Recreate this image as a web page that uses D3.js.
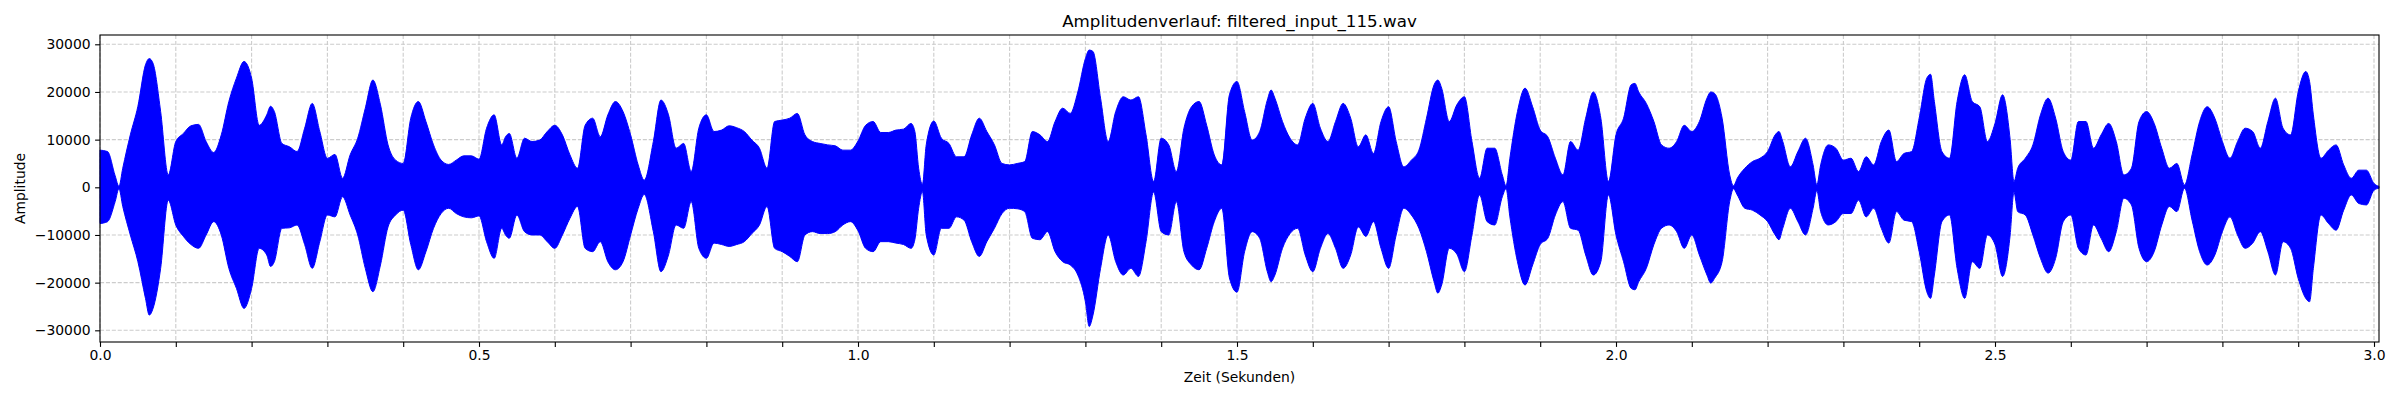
<!DOCTYPE html>
<html>
<head>
<meta charset="utf-8">
<script src="https://cdn.jsdelivr.net/npm/d3@7"></script>
<style>
  body { margin: 0; background: #fff; }
  svg text { font-family: "DejaVu Sans", sans-serif; fill: #000; }
</style>
</head>
<body>
<svg id="chart"></svg>
<script>
// envelope of the wave (seconds, upper peak, lower peak)
var timeSec = [
  0.000, 0.010, 0.020, 0.025, 0.030, 0.040, 0.050, 0.060, 0.065, 0.070, 0.080, 0.090,
  0.100, 0.110, 0.120, 0.130, 0.140, 0.150, 0.160, 0.170, 0.180, 0.190, 0.200, 0.210,
  0.220, 0.225, 0.230, 0.240, 0.250, 0.260, 0.270, 0.280, 0.290, 0.300, 0.310, 0.320,
  0.330, 0.340, 0.350, 0.360, 0.370, 0.380, 0.390, 0.400, 0.410, 0.420, 0.430, 0.440,
  0.450, 0.460, 0.470, 0.480, 0.490, 0.500, 0.510, 0.520, 0.530, 0.535, 0.540, 0.550,
  0.560, 0.570, 0.580, 0.590, 0.600, 0.610, 0.620, 0.630, 0.640, 0.650, 0.660, 0.670,
  0.680, 0.690, 0.700, 0.710, 0.718, 0.730, 0.740, 0.750, 0.760, 0.770, 0.780, 0.790,
  0.800, 0.810, 0.820, 0.830, 0.840, 0.850, 0.860, 0.870, 0.880, 0.890, 0.900, 0.910,
  0.920, 0.930, 0.940, 0.950, 0.960, 0.970, 0.980, 0.990, 1.000, 1.010, 1.020, 1.030,
  1.040, 1.050, 1.060, 1.070, 1.075, 1.080, 1.085, 1.090, 1.100, 1.110, 1.120, 1.130,
  1.140, 1.150, 1.160, 1.170, 1.180, 1.190, 1.200, 1.210, 1.220, 1.230, 1.240, 1.250,
  1.260, 1.270, 1.280, 1.290, 1.300, 1.305, 1.310, 1.320, 1.330, 1.340, 1.350, 1.360,
  1.370, 1.380, 1.390, 1.400, 1.410, 1.420, 1.430, 1.440, 1.450, 1.460, 1.470, 1.480,
  1.490, 1.500, 1.510, 1.520, 1.530, 1.540, 1.545, 1.550, 1.560, 1.570, 1.580, 1.590,
  1.600, 1.610, 1.620, 1.630, 1.640, 1.650, 1.660, 1.670, 1.680, 1.690, 1.700, 1.710,
  1.720, 1.730, 1.740, 1.750, 1.760, 1.765, 1.770, 1.780, 1.790, 1.800, 1.810, 1.820,
  1.830, 1.840, 1.850, 1.855, 1.860, 1.870, 1.880, 1.890, 1.900, 1.910, 1.920, 1.930,
  1.940, 1.950, 1.960, 1.970, 1.980, 1.990, 2.000, 2.010, 2.020, 2.025, 2.030, 2.040,
  2.050, 2.060, 2.070, 2.080, 2.090, 2.100, 2.110, 2.120, 2.125, 2.130, 2.140, 2.150,
  2.155, 2.160, 2.170, 2.180, 2.190, 2.200, 2.210, 2.215, 2.220, 2.230, 2.240, 2.250,
  2.260, 2.265, 2.270, 2.280, 2.290, 2.300, 2.310, 2.320, 2.330, 2.340, 2.350, 2.360,
  2.370, 2.380, 2.390, 2.400, 2.410, 2.415, 2.420, 2.430, 2.440, 2.450, 2.460, 2.470,
  2.480, 2.490, 2.500, 2.510, 2.520, 2.525, 2.530, 2.540, 2.550, 2.560, 2.570, 2.580,
  2.590, 2.600, 2.610, 2.620, 2.630, 2.640, 2.650, 2.660, 2.670, 2.680, 2.690, 2.700,
  2.710, 2.720, 2.730, 2.740, 2.750, 2.760, 2.770, 2.780, 2.790, 2.800, 2.810, 2.820,
  2.830, 2.840, 2.850, 2.860, 2.870, 2.880, 2.890, 2.900, 2.910, 2.915, 2.920, 2.930,
  2.940, 2.950, 2.960, 2.970, 2.980, 2.990, 3.000, 3.0066
]

var upperPeak = [
  7800, 7500, 2400, 200, 4000, 11000, 17000, 25700, 27000, 26000, 15900, 2600,
  9600, 11300, 12900, 13200, 9600, 7300, 11000, 18000, 22900, 26400, 22900, 13000,
  15200, 17000, 15900, 9200, 8500, 7500, 12400, 17600, 11700, 6100, 6900, 1900,
  6800, 10300, 16600, 22500, 17300, 8900, 5700, 5000, 14500, 18000, 13800, 8900,
  5700, 4800, 5700, 6600, 6600, 5900, 12400, 15200, 8900, 10600, 11300, 6100,
  10300, 9600, 9900, 11700, 13000, 11000, 6800, 4000, 13000, 14500, 10600, 15200,
  18000, 15900, 11000, 4700, 1500, 9600, 18300, 15200, 8200, 9200, 3300, 12400,
  15200, 11700, 12000, 12900, 12500, 11700, 9900, 8200, 4000, 13800, 14100, 14500,
  15500, 11000, 9600, 9200, 8900, 8700, 7800, 7800, 9700, 13000, 13800, 11500,
  11500, 12000, 12200, 13400, 11700, 4000, 600, 8900, 13900, 10300, 9200, 6400,
  6400, 11000, 14500, 11700, 8900, 5000, 4700, 5000, 5400, 11700, 11000, 9600,
  13800, 16600, 15500, 20000, 27000, 28800, 28500, 18700, 9600, 15900, 19000, 18300,
  19000, 11000, 1200, 10300, 8900, 3300, 12400, 16900, 18000, 13000, 6800, 4700,
  19400, 22200, 15900, 9900, 11700, 18300, 20400, 18700, 13800, 10300, 8900, 14500,
  17600, 12400, 9600, 13800, 17600, 14500, 8500, 11000, 7100, 13800, 16900, 9600,
  4300, 5700, 7800, 14500, 21500, 22500, 20800, 13800, 17300, 19000, 9600, 1900,
  8200, 8200, 2600, 300, 6100, 15900, 20800, 16900, 12000, 10600, 6100, 2600,
  9600, 7800, 14500, 20000, 14500, 1200, 11000, 14500, 21500, 21800, 20000, 17600,
  13800, 8900, 8200, 9600, 13000, 11700, 13800, 18700, 20000, 19700, 14500, 2600,
  300, 1900, 4000, 5400, 6100, 7500, 11000, 11700, 9600, 4300, 7500, 10300,
  4700, 500, 4700, 8900, 8200, 5700, 6100, 3300, 6400, 4700, 9600, 12000,
  5400, 7100, 7500, 14500, 22900, 23700, 18000, 7500, 6100, 18000, 23600, 18000,
  16900, 9600, 13400, 19400, 10000, 1200, 4000, 6100, 8900, 15200, 18700, 14500,
  7500, 5700, 13800, 13800, 8200, 11000, 13400, 9600, 2600, 4000, 13800, 15900,
  13400, 8200, 4000, 5000, 500, 6800, 13800, 16900, 14500, 9600, 6100, 9600,
  12400, 11700, 8200, 13800, 18700, 12400, 11000, 20000, 24300, 22200, 15200, 6100,
  7800, 8900, 4700, 1900, 3600, 3600, 800, 200
]

var lowerPeak = [
  -7600, -7200, -3000, -300, -4000, -10000, -15600, -23300, -26800, -25400, -17000, -2700,
  -7900, -10300, -12000, -12800, -10000, -7200, -10000, -17000, -21200, -25400, -21200, -12800,
  -14200, -16600, -15600, -8600, -8500, -7900, -12000, -17000, -11400, -5800, -6200, -2000,
  -5800, -10000, -17000, -21900, -16300, -8300, -5800, -4800, -12000, -17300, -13500, -8600,
  -5500, -4400, -5500, -6200, -6400, -6000, -11400, -14900, -8600, -10000, -10700, -5800,
  -9300, -10000, -10000, -11400, -12800, -10000, -6500, -4000, -12800, -13500, -11400, -15600,
  -17300, -15600, -10000, -4400, -1500, -9300, -17700, -14200, -7900, -8600, -3000, -12800,
  -14900, -11700, -12000, -12400, -12000, -11400, -9700, -7900, -4000, -12800, -13500, -14500,
  -15600, -10000, -9300, -9700, -9700, -9300, -7900, -7200, -9100, -12800, -13500, -11400,
  -11400, -11700, -12000, -12800, -11000, -4400, -900, -10000, -14200, -8600, -8600, -6200,
  -6900, -11400, -14500, -11400, -8600, -5500, -4400, -4500, -5100, -10700, -11000, -9300,
  -13500, -15600, -16300, -18400, -24000, -29200, -26800, -17000, -10000, -15600, -18400, -17000,
  -18700, -11400, -1000, -9300, -10000, -3000, -13500, -16300, -17300, -12800, -7200, -4400,
  -19000, -22000, -13500, -9300, -10700, -17700, -19800, -18400, -12800, -9700, -8600, -14200,
  -17700, -12800, -9700, -12800, -17000, -14200, -8300, -10300, -7200, -12800, -17000, -10000,
  -4400, -5800, -8600, -13500, -19800, -22200, -20500, -12800, -14000, -17700, -10000, -1600,
  -7200, -7900, -2000, -300, -6200, -15600, -20500, -16300, -12000, -10700, -5800, -3000,
  -8600, -9000, -14200, -18400, -15600, -1600, -10000, -15600, -21200, -21500, -19800, -17000,
  -12000, -8600, -7900, -9300, -12800, -10000, -14200, -18400, -20100, -19100, -15600, -3000,
  -300, -1600, -4400, -4800, -5800, -7200, -10000, -11000, -8600, -4400, -7200, -10000,
  -4400, -700, -5100, -7900, -7200, -5500, -5500, -2700, -6200, -4400, -8600, -11700,
  -5100, -6900, -7200, -13500, -21900, -23300, -18400, -7200, -5800, -17000, -23300, -15600,
  -17000, -10000, -12000, -18700, -10000, -1000, -5100, -5800, -10000, -14900, -18000, -14900,
  -7200, -5800, -12800, -14200, -7900, -10700, -13500, -9300, -2300, -3700, -12800, -15600,
  -13500, -7900, -4000, -5100, -200, -6900, -13500, -16300, -14200, -9300, -6200, -10000,
  -12800, -11700, -9300, -13500, -18400, -11400, -12800, -19100, -23300, -24000, -17000, -5800,
  -7600, -9000, -4800, -1600, -3400, -3700, -600, -200
]

var xMajorTicks = [0.0, 0.5, 1.0, 1.5, 2.0, 2.5, 3.0]
var xMinorTicks = [0.1, 0.2, 0.3, 0.4, 0.6, 0.7, 0.8, 0.9, 1.1, 1.2, 1.3, 1.4,
                   1.6, 1.7, 1.8, 1.9, 2.1, 2.2, 2.3, 2.4, 2.6, 2.7, 2.8, 2.9]
var yTicks = [-30000, -20000, -10000, 0, 10000, 20000, 30000]

var chartTitle = 'Amplitudenverlauf: filtered_input_115.wav'
var xTitle = 'Zeit (Sekunden)'
var yTitle = 'Amplitude'

var width = 2400,
    height = 400,
    margins = { top: 35, left: 100, right: 21, bottom: 58 },
    plotW = width - margins.left - margins.right,
    plotH = height - margins.top - margins.bottom

var svg = d3.select('#chart')
    .attr('width', width)
    .attr('height', height)

var xScale = d3.scaleLinear()
    .domain([0, 3.0066])
    .range([0, plotW])

var yScale = d3.scaleLinear()
    .domain([-32450, 31950])
    .range([plotH, 0])

var g = svg.append('g')
    .attr('transform', 'translate(' + margins.left + ',' + margins.top + ')')

// grid, every minor and major x tick, y majors
var gridX = xMajorTicks.concat(xMinorTicks)
g.selectAll('.gridx')
    .data(gridX)
    .enter().append('line')
    .attr('class', 'gridx')
    .attr('x1', function(d) { return xScale(d) })
    .attr('x2', function(d) { return xScale(d) })
    .attr('y1', 0)
    .attr('y2', plotH)
    .style('stroke', '#cccccc')
    .style('stroke-width', 1.1)
    .style('stroke-dasharray', '4.1,1.8')

g.selectAll('.gridy')
    .data(yTicks)
    .enter().append('line')
    .attr('class', 'gridy')
    .attr('x1', 0)
    .attr('x2', plotW)
    .attr('y1', function(d) { return yScale(d) })
    .attr('y2', function(d) { return yScale(d) })
    .style('stroke', '#cccccc')
    .style('stroke-width', 1.1)
    .style('stroke-dasharray', '4.1,1.8')

// the wave, drawn as band between its peaks
var wave = timeSec.map(function(t, i) {
    return { t: t, hi: upperPeak[i], lo: lowerPeak[i] }
})

var area = d3.area()
    .x(function(d) { return xScale(d.t) })
    .y0(function(d) { return yScale(d.lo) })
    .y1(function(d) { return yScale(d.hi) })
    .curve(d3.curveMonotoneX)

g.append('path')
    .datum(wave)
    .attr('d', area)
    .style('fill', '#0000ff')
    .style('stroke', '#0000ff')
    .style('stroke-width', 1)

// axes
var fmtY = function(d) { return d < 0 ? '\u2212' + Math.abs(d) : String(d) }

var xAxis = d3.axisBottom(xScale)
    .tickValues(xMajorTicks)
    .tickFormat(d3.format('.1f'))
    .tickSize(4.9)
    .tickPadding(3.5)

var xMinor = d3.axisBottom(xScale)
    .tickValues(xMinorTicks)
    .tickFormat('')
    .tickSize(4.9)

var yAxis = d3.axisLeft(yScale)
    .tickValues(yTicks)
    .tickFormat(fmtY)
    .tickSize(4.9)
    .tickPadding(4.5)

function styleAxis(sel) {
    sel.select('.domain').remove()
    sel.selectAll('line').style('stroke', '#000').style('stroke-width', 1.1)
    sel.selectAll('text').style('font-size', '13.9px').style('font-family', '"DejaVu Sans", sans-serif')
}

g.append('g').attr('transform', 'translate(0,' + plotH + ')').call(xAxis).call(styleAxis)
g.append('g').attr('transform', 'translate(0,' + plotH + ')').call(xMinor).call(styleAxis)
g.append('g').call(yAxis).call(styleAxis)

// frame
g.append('rect')
    .attr('x', 0)
    .attr('y', 0)
    .attr('width', plotW)
    .attr('height', plotH)
    .style('fill', 'none')
    .style('stroke', '#000')
    .style('stroke-width', 1.1)

// titles
svg.append('text')
    .attr('x', margins.left + plotW / 2)
    .attr('y', 27)
    .attr('text-anchor', 'middle')
    .style('font-size', '16.7px')
    .text(chartTitle)

svg.append('text')
    .attr('x', margins.left + plotW / 2)
    .attr('y', 382)
    .attr('text-anchor', 'middle')
    .style('font-size', '13.9px')
    .text(xTitle)

svg.append('text')
    .attr('transform', 'translate(25,' + (margins.top + plotH / 2) + ') rotate(-90)')
    .attr('text-anchor', 'middle')
    .style('font-size', '13.9px')
    .text(yTitle)
</script>
</body>
</html>
